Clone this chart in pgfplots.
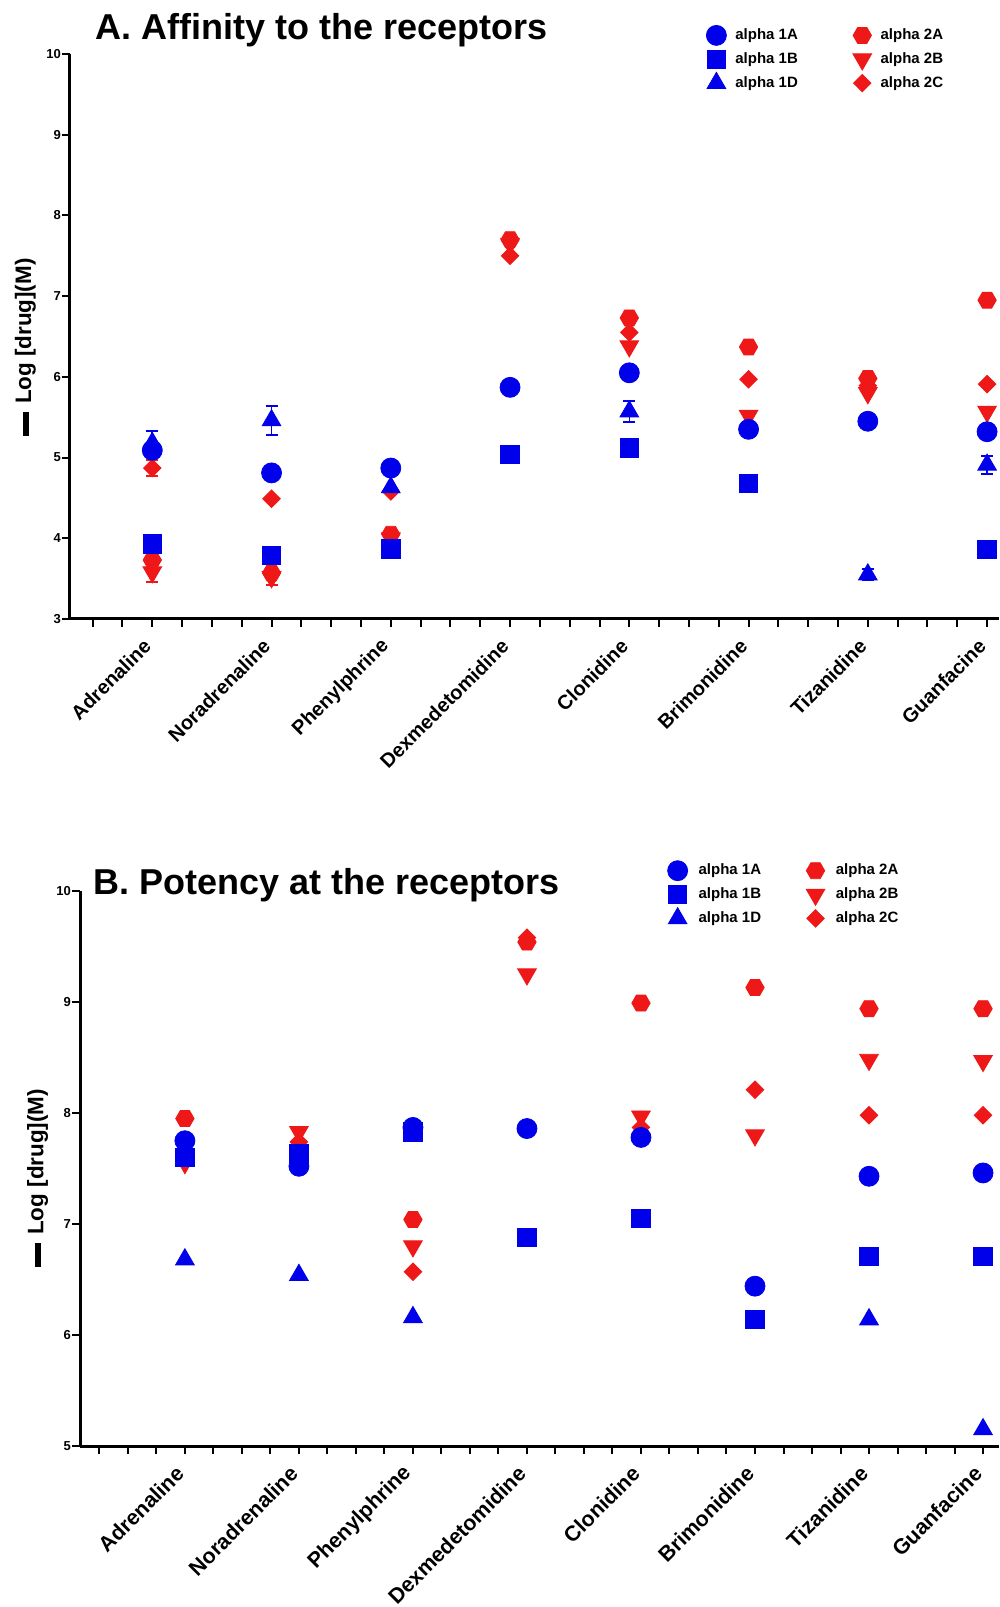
\documentclass[border=0pt]{standalone}
\usepackage{pgfplots}
\pgfplotsset{compat=1.18}
\usepackage{fontspec}
\setmainfont{Liberation Sans}
\definecolor{myblue}{RGB}{0,0,235}
\definecolor{myred}{RGB}{238,24,24}
\pgfdeclareplotmark{hexagon*}{%
  \pgfpathmoveto{\pgfpointpolar{0}{\pgfplotmarksize}}%
  \pgfpathlineto{\pgfpointpolar{60}{\pgfplotmarksize}}%
  \pgfpathlineto{\pgfpointpolar{120}{\pgfplotmarksize}}%
  \pgfpathlineto{\pgfpointpolar{180}{\pgfplotmarksize}}%
  \pgfpathlineto{\pgfpointpolar{240}{\pgfplotmarksize}}%
  \pgfpathlineto{\pgfpointpolar{300}{\pgfplotmarksize}}%
  \pgfpathclose
  \pgfusepathqfillstroke}
\pgfplotsset{
  s1A/.style={only marks, mark=*, color=myblue, mark size=5pt},
  s1B/.style={only marks, mark=square*, color=myblue, mark size=4.6pt},
  s1D/.style={only marks, mark=triangle*, color=myblue, mark size=5.4pt},
  s2A/.style={only marks, mark=hexagon*, color=myred, mark size=4.6pt},
  s2B/.style={only marks, mark=triangle*, color=myred, mark size=5.4pt, mark options={rotate=180}},
  s2C/.style={only marks, mark=square*, color=myred, mark size=3.1pt, mark options={rotate=45}},
  eb/.style={error bars/.cd, y dir=both, y explicit, error mark=|,
    error bar style={line width=0.8pt}, error mark options={line width=0.8pt, mark size=3pt}},
  panel/.style={
    scale only axis, anchor=south west,
    axis x line*=bottom, axis y line*=left,
    axis line style={line width=1.5pt, black},
    every tick/.style={line width=1pt, black},
    tick align=outside,
    major tick length=4pt, minor tick length=4pt,
    xtick={1,...,8},
    xticklabels={Adrenaline,Noradrenaline,Phenylphrine,Dexmedetomidine,Clonidine,Brimonidine,Tizanidine,Guanfacine},
    yticklabel style={xshift=3pt, font=\bfseries\fontsize{6.5}{7}\selectfont},
    /pgf/number format/assume math mode=true,
    ylabel={\rule[1.3pt]{12pt}{2.8pt}\hspace{4pt}Log [drug](M)},
    label style={font=\bfseries\fontsize{11.2}{12}\selectfont},
    title style={anchor=west, yshift=0pt, font=\bfseries\fontsize{18}{21}\selectfont},
    legend columns=2, legend cell align=left,
  },
}
\begin{document}
\begin{tikzpicture}
\useasboundingbox (0,0) rectangle (500pt,803.5pt);
% ---------------- Panel A ----------------
\begin{axis}[panel,
  at={(35pt,494pt)}, width=464.5pt, height=282.5pt,
  xmin=0.31, xmax=8.10, ymin=3, ymax=10, ytick={3,...,10},
  minor xtick={0.5,0.75,...,8},
  xticklabel style={yshift=-5.5pt, rotate=45, anchor=east, font=\bfseries\fontsize{10}{11}\selectfont},
  ylabel style={at={(axis description cs:-0.048,0.481)}, anchor=center},
  title={A. Affinity to the receptors},
  title style={at={(axis description cs:0.0195,1.0206)}},
  legend style={at={(axis description cs:0.6846,1.0530)}, anchor=north west, draw=none, fill=none, inner sep=0pt,
    font=\bfseries\fontsize{7.5}{8}\selectfont, row sep=1pt,
    /tikz/every odd column/.append style={column sep=2.5pt},
    /tikz/every even column/.append style={column sep=25.5pt}},
]
\addplot[s2A, forget plot] coordinates {(1,3.73) (2,3.57) (3,4.05) (4,7.70) (5,6.73) (6,6.37) (7,5.98) (8,6.95)};
\addplot[s2B, forget plot, eb]
  coordinates {(1,3.58) +- (0,0.12) (2,3.52) +- (0,0.10) (3,4.00) +- (0,0) (4,7.65) +- (0,0) (5,6.38) +- (0,0) (6,5.52) +- (0,0) (7,5.80) +- (0,0) (8,5.57) +- (0,0)};
\addplot[s2C, forget plot, eb]
  coordinates {(1,4.87) +- (0,0.10) (2,4.49) +- (0,0) (3,4.58) +- (0,0) (4,7.50) +- (0,0) (5,6.55) +- (0,0) (6,5.97) +- (0,0) (7,5.89) +- (0,0) (8,5.91) +- (0,0)};
\addplot[s1D, forget plot, eb]
  coordinates {(1,5.18) +- (0,0.15) (2,5.46) +- (0,0.18) (3,4.63) +- (0,0) (5,5.57) +- (0,0.13) (7,3.55) +- (0,0.07) (8,4.91) +- (0,0.11)};
\addplot[s1B, forget plot] coordinates {(1,3.93) (2,3.79) (3,3.87) (4,5.04) (5,5.12) (6,4.68) (8,3.86)};
\addplot[s1A, forget plot] coordinates {(1,5.09) (2,4.81) (3,4.87) (4,5.87) (5,6.05) (6,5.35) (7,5.45) (8,5.32)};
\addlegendimage{s1A}\addlegendentry{alpha 1A}
\addlegendimage{s2A}\addlegendentry{alpha 2A}
\addlegendimage{s1B}\addlegendentry{alpha 1B}
\addlegendimage{s2B}\addlegendentry{alpha 2B}
\addlegendimage{s1D}\addlegendentry{alpha 1D}
\addlegendimage{s2C}\addlegendentry{alpha 2C}
\end{axis}
% ---------------- Panel B ----------------
\begin{axis}[panel,
  at={(40pt,80.5pt)}, width=459.5pt, height=277.5pt,
  xmin=0.08, xmax=8.14, ymin=5, ymax=10, ytick={5,...,10},
  minor xtick={0.25,0.5,...,8},
  xticklabel style={yshift=-5.5pt, rotate=45, anchor=east, font=\bfseries\fontsize{10.7}{12}\selectfont},
  ylabel style={at={(axis description cs:-0.046,0.483)}, anchor=center},
  title={B. Potency at the receptors},
  title style={at={(axis description cs:0.0073,0.9886)}},
  legend style={at={(axis description cs:0.639,1.057)}, anchor=north west, draw=none, fill=none, inner sep=0pt,
    font=\bfseries\fontsize{7.5}{8}\selectfont, row sep=1pt,
    /tikz/every odd column/.append style={column sep=3.5pt},
    /tikz/every even column/.append style={column sep=20.5pt}},
]
\addplot[s2A, forget plot] coordinates {(1,7.95) (2,7.62) (3,7.04) (4,9.54) (5,8.99) (6,9.13) (7,8.94) (8,8.94)};
\addplot[s2B, forget plot] coordinates {(1,7.55) (2,7.83) (3,6.80) (4,9.25) (5,7.97) (6,7.80) (7,8.48) (8,8.47)};
\addplot[s2C, forget plot] coordinates {(1,7.63) (2,7.74) (3,6.57) (4,9.58) (5,7.87) (6,8.21) (7,7.98) (8,7.98)};
\addplot[s1D, forget plot] coordinates {(1,6.68) (2,6.54) (3,6.16) (7,6.14) (8,5.15)};
\addplot[s1B, forget plot] coordinates {(1,7.60) (2,7.63) (3,7.83) (4,6.88) (5,7.05) (6,6.14) (7,6.71) (8,6.71)};
\addplot[s1A, forget plot] coordinates {(1,7.75) (2,7.52) (3,7.87) (4,7.86) (5,7.78) (6,6.44) (7,7.43) (8,7.46)};
\addlegendimage{s1A}\addlegendentry{alpha 1A}
\addlegendimage{s2A}\addlegendentry{alpha 2A}
\addlegendimage{s1B}\addlegendentry{alpha 1B}
\addlegendimage{s2B}\addlegendentry{alpha 2B}
\addlegendimage{s1D}\addlegendentry{alpha 1D}
\addlegendimage{s2C}\addlegendentry{alpha 2C}
\end{axis}
\end{tikzpicture}
\end{document}
